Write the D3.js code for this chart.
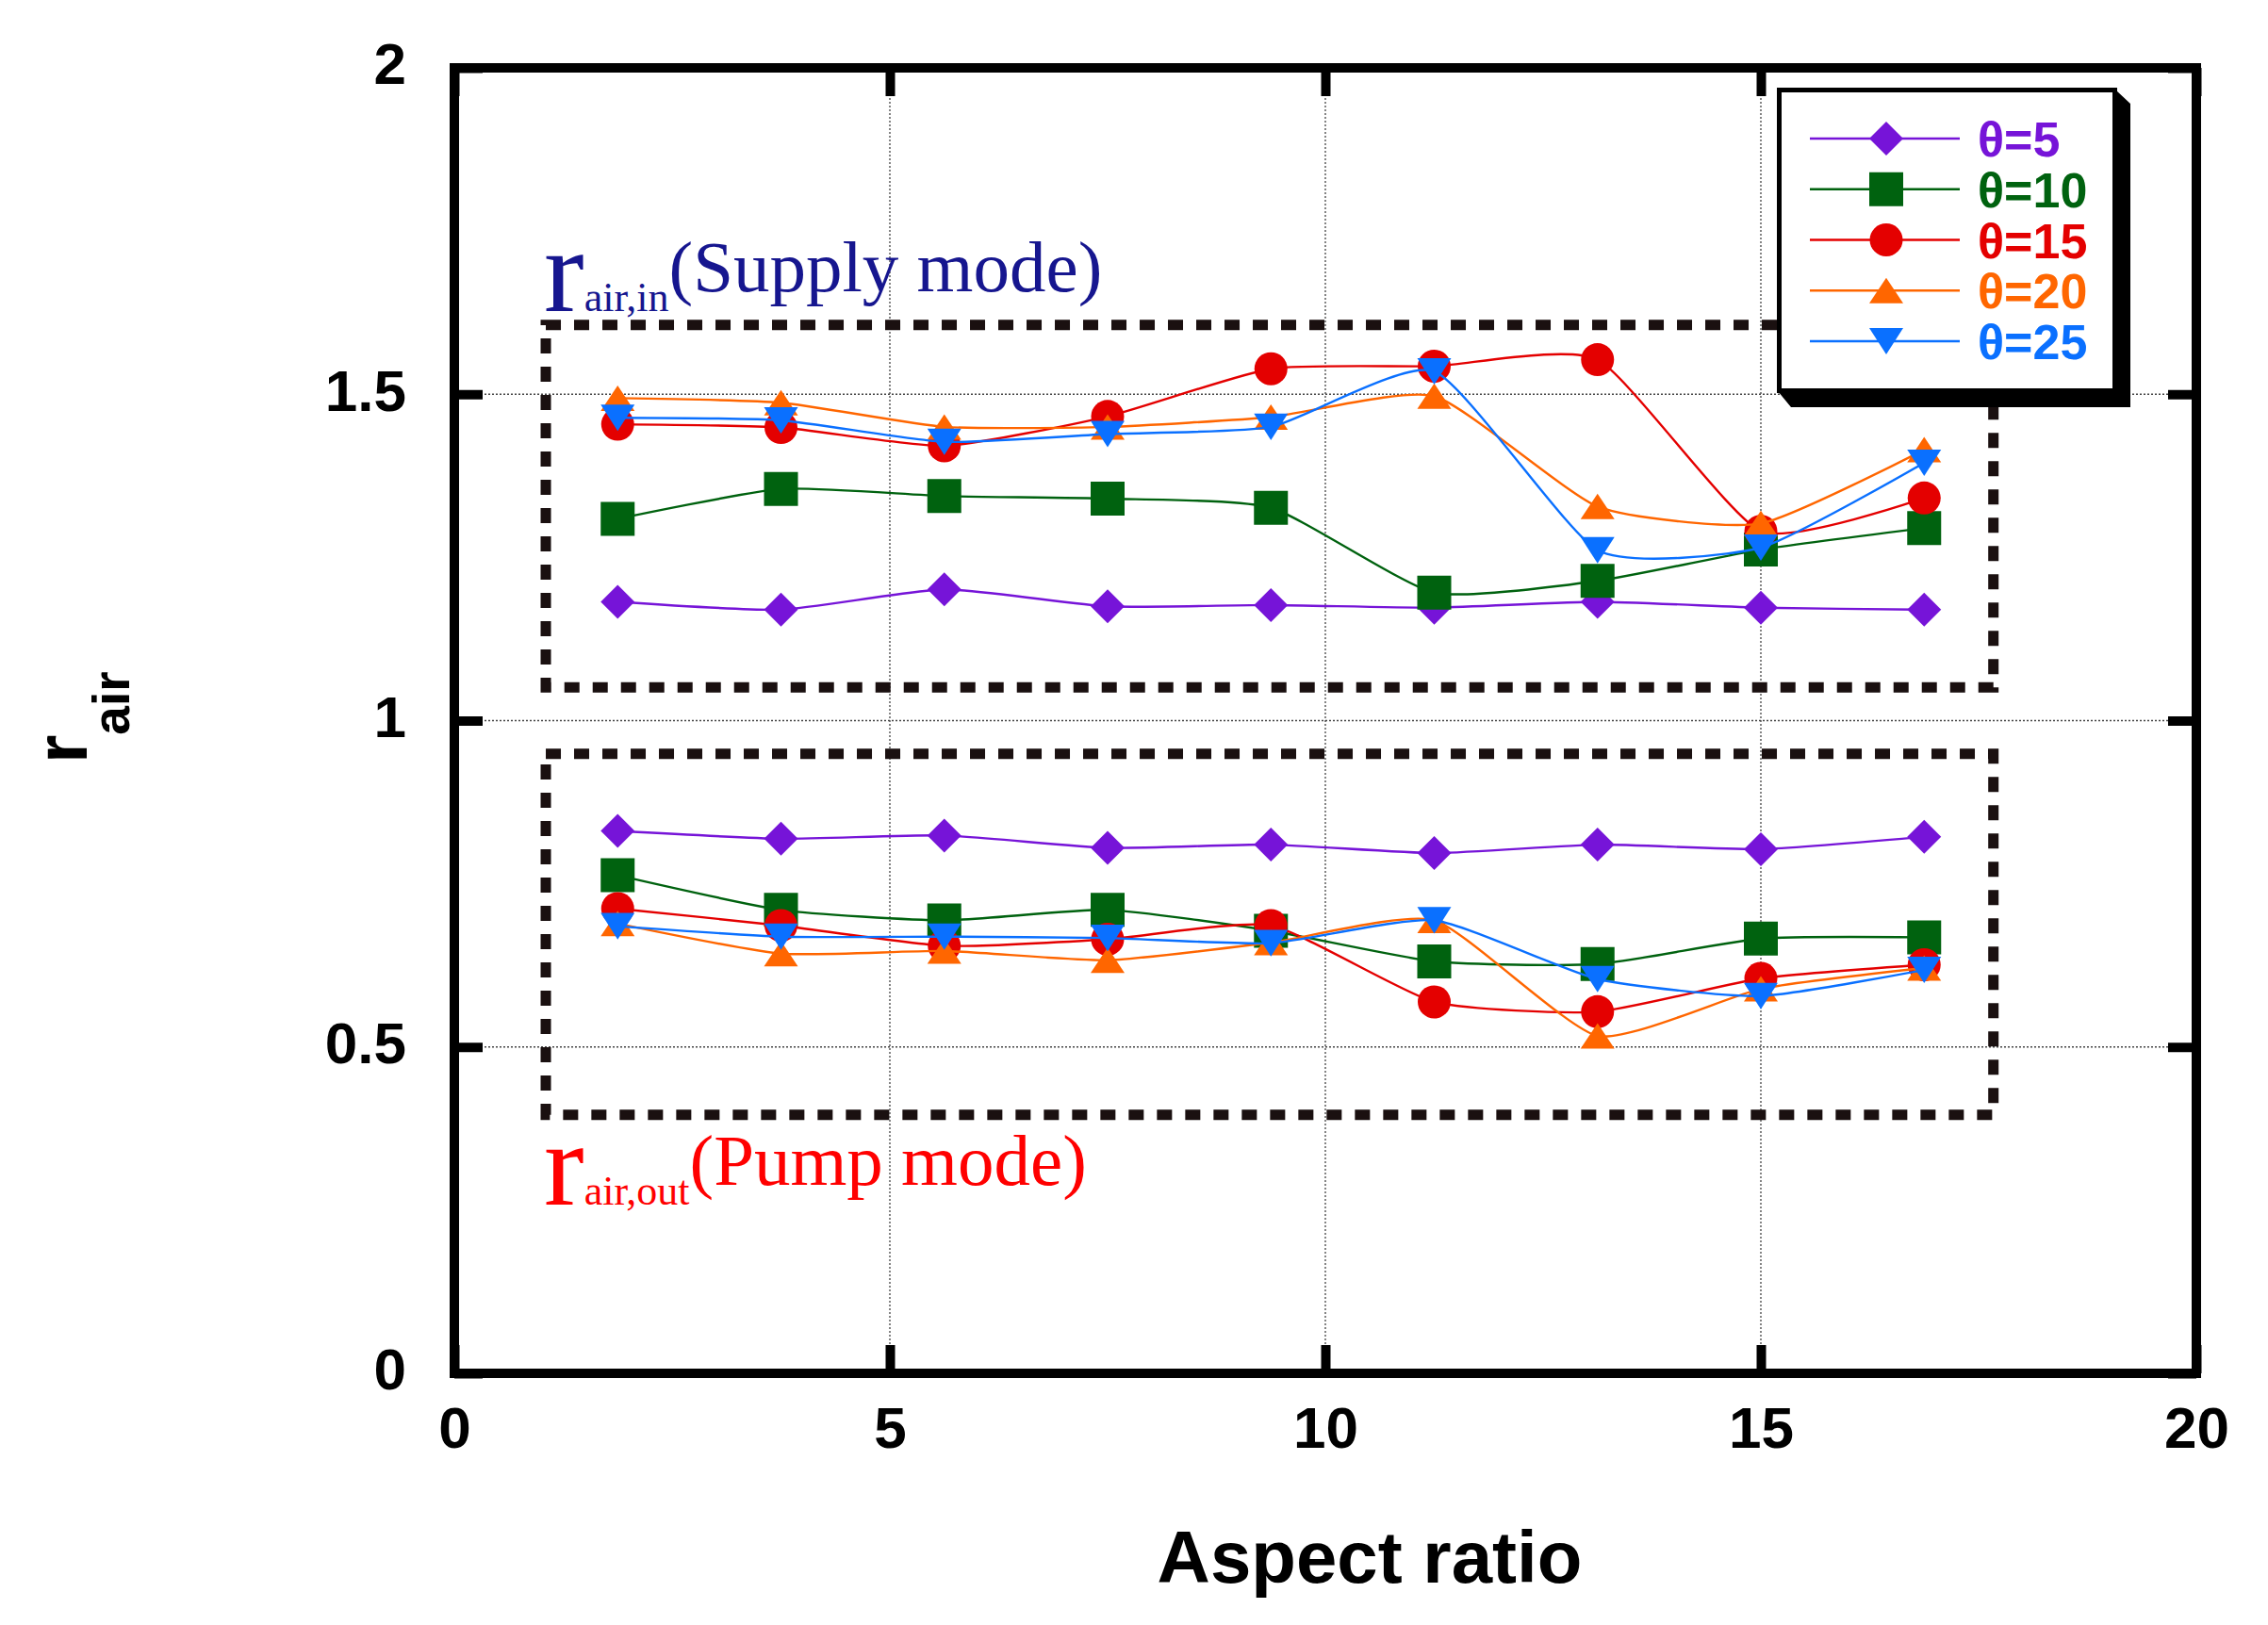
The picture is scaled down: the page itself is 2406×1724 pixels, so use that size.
<!DOCTYPE html>
<html>
<head>
<meta charset="utf-8">
<script src="https://cdn.jsdelivr.net/npm/d3@7"></script>
<style>
	body { margin: 0; background: #fff; }
</style>
</head>
<body>
<script>
	// aspect ratio positions shared by every series
	var aspectRatio = [1.875, 3.75, 5.625, 7.5, 9.375, 11.25, 13.125, 15, 16.875];

	var thetaLabels = ['θ=5', 'θ=10', 'θ=15', 'θ=20', 'θ=25'];
	var thetaColors = ['#7614d8', '#00620f', '#e40000', '#ff6600', '#0a70ff'];

	// r_air,in (supply mode)
	var supply5  = [1.182, 1.170, 1.201, 1.175, 1.177, 1.173, 1.182, 1.173, 1.170];
	var supply10 = [1.309, 1.355, 1.344, 1.340, 1.326, 1.196, 1.214, 1.262, 1.295];
	var supply15 = [1.454, 1.449, 1.421, 1.466, 1.539, 1.543, 1.553, 1.290, 1.341];
	var supply20 = [1.494, 1.487, 1.450, 1.450, 1.465, 1.497, 1.328, 1.302, 1.415];
	var supply25 = [1.464, 1.460, 1.427, 1.439, 1.450, 1.535, 1.261, 1.265, 1.395];

	// r_air,out (pump mode)
	var pump5  = [0.831, 0.819, 0.824, 0.805, 0.810, 0.797, 0.810, 0.803, 0.822];
	var pump10 = [0.763, 0.710, 0.694, 0.710, 0.678, 0.631, 0.627, 0.666, 0.668];
	var pump15 = [0.712, 0.686, 0.655, 0.665, 0.686, 0.569, 0.554, 0.605, 0.626];
	var pump20 = [0.689, 0.643, 0.647, 0.633, 0.660, 0.694, 0.517, 0.589, 0.621];
	var pump25 = [0.685, 0.669, 0.669, 0.667, 0.659, 0.694, 0.604, 0.578, 0.618];

	var xTicks = [0, 5, 10, 15, 20];
	var yTicks = [0, 0.5, 1, 1.5, 2];

	var supplySets = [supply5, supply10, supply15, supply20, supply25];
	var pumpSets = [pump5, pump10, pump15, pump20, pump25];

	var width = 2406, height = 1724;
	var plotL = 482, plotR = 2330, plotT = 72, plotB = 1457;

	var svg = d3.select('body').append('svg')
		.attr('width', width)
		.attr('height', height)
		.style('background', '#fff');

	var x = d3.scaleLinear().domain([0, 20]).range([plotL, plotR]);
	var y = d3.scaleLinear().domain([0, 2]).range([plotB, plotT]);

	// marker shapes
	var diamond = { draw: function (ctx, size) {
		var r = Math.sqrt(size) / 2;
		ctx.moveTo(0, -r); ctx.lineTo(r, 0); ctx.lineTo(0, r); ctx.lineTo(-r, 0); ctx.closePath();
	}};
	var square = { draw: function (ctx, size) {
		var r = Math.sqrt(size) / 2;
		ctx.rect(-r, -r, 2 * r, 2 * r);
	}};
	var triUp = { draw: function (ctx, size) {
		var w = Math.sqrt(size) / 2, h = w * 0.75;
		ctx.moveTo(0, -h); ctx.lineTo(w, h); ctx.lineTo(-w, h); ctx.closePath();
	}};
	var triDown = { draw: function (ctx, size) {
		var w = Math.sqrt(size) / 2, h = w * 0.78;
		ctx.moveTo(0, h); ctx.lineTo(w, -h); ctx.lineTo(-w, -h); ctx.closePath();
	}};
	var shapes = [diamond, square, d3.symbolCircle, triUp, triDown];
	var sizes = [36 * 36, 36 * 36, Math.PI * 17.5 * 17.5, 36 * 36, 36 * 36];

	// grid
	var grid = svg.append('g');
	grid.selectAll('.gx').data([5, 10, 15]).enter().append('line')
		.attr('x1', function (d) { return x(d); }).attr('x2', function (d) { return x(d); })
		.attr('y1', plotT).attr('y2', plotB);
	grid.selectAll('.gy').data([0.5, 1, 1.5]).enter().append('line')
		.attr('y1', function (d) { return y(d); }).attr('y2', function (d) { return y(d); })
		.attr('x1', plotL).attr('x2', plotR);
	grid.selectAll('line')
		.attr('stroke', '#444')
		.attr('stroke-width', 1.3)
		.attr('stroke-dasharray', '2,2');

	// dashed boxes around each group
	var boxes = [[1.05, 17.67, 1.606, 1.051], [1.05, 17.67, 0.949, 0.396]];
	svg.selectAll('.box').data(boxes).enter().append('rect')
		.attr('x', function (d) { return x(d[0]); })
		.attr('y', function (d) { return y(d[2]); })
		.attr('width', function (d) { return x(d[1]) - x(d[0]); })
		.attr('height', function (d) { return y(d[3]) - y(d[2]); })
		.attr('fill', 'none')
		.attr('stroke', '#1a1010')
		.attr('stroke-width', 11)
		.attr('stroke-dasharray', '16,14');

	// axes: ticks point inward, frame drawn separately
	var tickFont = '"Liberation Sans", Arial, sans-serif';
	var axL = svg.append('g').attr('transform', 'translate(' + plotL + ',0)')
		.call(d3.axisLeft(y).tickValues(yTicks).tickSize(-30).tickPadding(51).tickFormat(function (d) { return String(d); }));
	var axR = svg.append('g').attr('transform', 'translate(' + plotR + ',0)')
		.call(d3.axisRight(y).tickValues(yTicks).tickSize(-30).tickFormat(''));
	var axB = svg.append('g').attr('transform', 'translate(0,' + plotB + ')')
		.call(d3.axisBottom(x).tickValues(xTicks).tickSize(-30).tickPadding(35).tickFormat(function (d) { return String(d); }));
	var axT = svg.append('g').attr('transform', 'translate(0,' + plotT + ')')
		.call(d3.axisTop(x).tickValues(xTicks).tickSize(-30).tickFormat(''));

	[axL, axR, axB, axT].forEach(function (a) {
		a.select('.domain').remove();
		a.selectAll('.tick line').attr('stroke', '#000').attr('stroke-width', 10);
		a.selectAll('.tick text')
			.attr('fill', '#000')
			.style('font-family', tickFont)
			.style('font-weight', 'bold')
			.style('font-size', '62px');
	});
	axL.selectAll('.tick text').attr('dy', '0.27em');

	svg.append('rect')
		.attr('x', plotL).attr('y', plotT)
		.attr('width', plotR - plotL).attr('height', plotB - plotT)
		.attr('fill', 'none').attr('stroke', '#000').attr('stroke-width', 10);

	// axis titles
	svg.append('text')
		.attr('x', 1453).attr('y', 1679)
		.attr('text-anchor', 'middle')
		.style('font-family', tickFont).style('font-weight', 'bold').style('font-size', '78px')
		.text('Aspect ratio');

	var yt = svg.append('text')
		.attr('transform', 'translate(92,810) rotate(-90)')
		.style('font-family', tickFont).style('font-weight', 'bold');
	yt.append('tspan').style('font-size', '78px').text('r');
	yt.append('tspan').attr('dy', 45).style('font-size', '55px').text('air');

	// group annotations
	var serif = '"Liberation Serif", "Times New Roman", serif';
	function note(px, py, sub, rest, color) {
		var t = svg.append('text').attr('x', px).attr('y', py)
			.attr('fill', color).style('font-family', serif);
		t.append('tspan').style('font-size', '128px').text('r');
		t.append('tspan').style('font-size', '44px').text(sub);
		t.append('tspan').attr('dy', -21).style('font-size', '77px').text(rest);
	}
	note(577, 330, 'air,in', '(Supply mode)', '#16168f');
	note(577, 1278, 'air,out', '(Pump mode)', '#ff0000');

	// series: line then markers, drawn in legend order
	var line = d3.line()
		.x(function (d) { return x(d[0]); })
		.y(function (d) { return y(d[1]); })
		.curve(d3.curveCardinal.tension(0.45));

	thetaLabels.forEach(function (label, i) {
		var g = svg.append('g');
		[supplySets[i], pumpSets[i]].forEach(function (vals) {
			var pts = aspectRatio.map(function (a, j) { return [a, vals[j]]; });
			g.append('path')
				.attr('d', line(pts))
				.attr('fill', 'none')
				.attr('stroke', thetaColors[i])
				.attr('stroke-width', 2.4);
			g.selectAll(null).data(pts).enter().append('path')
				.attr('transform', function (d) { return 'translate(' + x(d[0]) + ',' + y(d[1]) + ')'; })
				.attr('d', d3.symbol().type(shapes[i]).size(sizes[i]))
				.attr('fill', thetaColors[i]);
		});
	});

	// legend with drop shadow
	var lg = svg.append('g');
	lg.append('polygon')
		.attr('points', '2244,95 2260,110 2260,432 1900,432 1886,415 2244,415')
		.attr('fill', '#000');
	lg.append('rect')
		.attr('x', 1887.5).attr('y', 95.5).attr('width', 356).attr('height', 319)
		.attr('fill', '#fff').attr('stroke', '#000').attr('stroke-width', 5);

	var legY = d3.scalePoint().domain(thetaLabels).range([147, 362]);
	thetaLabels.forEach(function (label, i) {
		var cy = legY(label);
		lg.append('line')
			.attr('x1', 1920).attr('x2', 2079).attr('y1', cy).attr('y2', cy)
			.attr('stroke', thetaColors[i]).attr('stroke-width', 2.4);
		lg.append('path')
			.attr('transform', 'translate(2001,' + cy + ')')
			.attr('d', d3.symbol().type(shapes[i]).size(sizes[i]))
			.attr('fill', thetaColors[i]);
		lg.append('text')
			.attr('x', 2098).attr('y', cy + 19)
			.attr('fill', thetaColors[i])
			.style('font-family', tickFont).style('font-weight', 'bold').style('font-size', '52px')
			.text(label);
	});
</script>
</body>
</html>
